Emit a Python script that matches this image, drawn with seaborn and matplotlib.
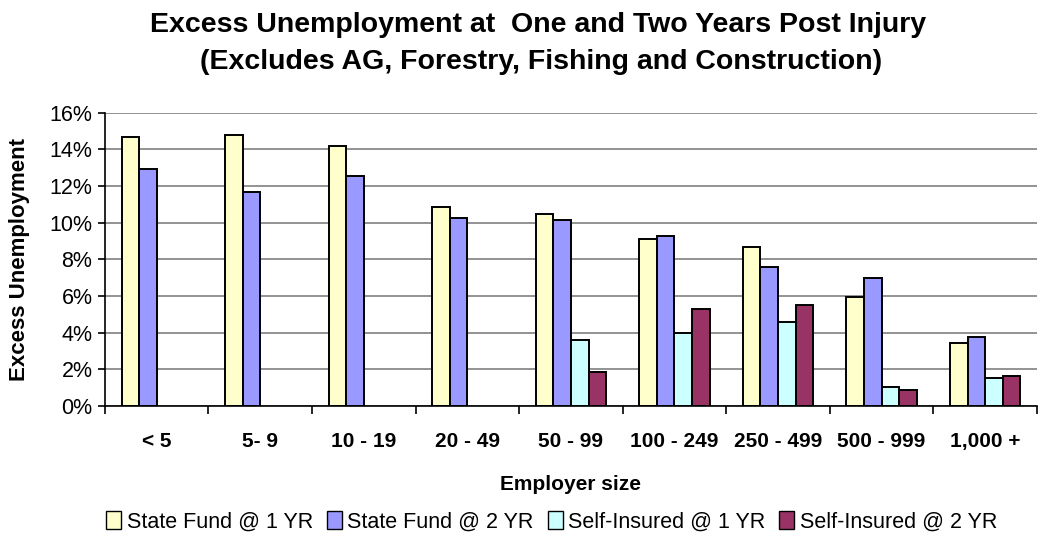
import numpy as np
import pandas as pd
import matplotlib
matplotlib.use("Agg")
import matplotlib.pyplot as plt
import seaborn as sns
from matplotlib.patches import Patch
from matplotlib.ticker import MultipleLocator, FuncFormatter

sizes = ["< 5", "5- 9", "10 - 19", "20 - 49", "50 - 99",
         "100 - 249", "250 - 499", "500 - 999", "1,000 +"]
series_names = ["State Fund @ 1 YR", "State Fund @ 2 YR",
                "Self-Insured @ 1 YR", "Self-Insured @ 2 YR"]
state_fund_1yr = [14.7, 14.8, 14.2, 10.85, 10.5, 9.1, 8.7, 5.95, 3.45]
state_fund_2yr = [12.95, 11.65, 12.55, 10.25, 10.15, 9.25, 7.6, 7.0, 3.75]
self_ins_1yr = [np.nan, np.nan, np.nan, np.nan, 3.6, 4.0, 4.6, 1.05, 1.55]
self_ins_2yr = [np.nan, np.nan, np.nan, np.nan, 1.85, 5.3, 5.5, 0.85, 1.65]
colors = ["#FFFFCC", "#9999FF", "#CCFFFF", "#993366"]

rows = []
for name, vals in zip(series_names,
                      [state_fund_1yr, state_fund_2yr, self_ins_1yr, self_ins_2yr]):
    for s, v in zip(sizes, vals):
        rows.append({"size": s, "series": name, "value": v})
df = pd.DataFrame(rows)

sns.set_theme(style="white")
plt.rcParams["font.family"] = ["Liberation Sans", "DejaVu Sans"]
plt.rcParams["text.color"] = "black"
plt.rcParams["axes.labelcolor"] = "black"
plt.rcParams["xtick.color"] = "black"
plt.rcParams["ytick.color"] = "black"

fig = plt.figure(figsize=(10.39, 5.37), dpi=100)
ax = fig.add_axes([0.101, 0.244, 0.897, 0.546])

sns.barplot(data=df, x="size", y="value", hue="series", order=sizes,
            hue_order=series_names, palette=colors, width=0.68,
            edgecolor="black", linewidth=1.4, ax=ax, legend=False,
            errorbar=None, saturation=1)

ax.set_ylim(0, 16)
ax.set_xlim(-0.5, len(sizes) - 0.5)
ax.yaxis.set_major_locator(MultipleLocator(2))
ax.yaxis.set_major_formatter(FuncFormatter(lambda v, p: f"{v:.0f}%"))
ax.grid(axis="y", color="#808080", linewidth=1.2)
ax.set_axisbelow(True)

for side in ["top", "right"]:
    ax.spines[side].set_visible(False)
for side in ["left", "bottom"]:
    ax.spines[side].set_color("black")
    ax.spines[side].set_linewidth(1.2)

# category boundaries carry the tick marks; labels sit at centres
ax.set_xticks(np.arange(-0.5, len(sizes), 1.0), minor=True)
ax.tick_params(axis="x", which="minor", length=6, width=1.2, color="black",
               direction="out", bottom=True)
ax.tick_params(axis="x", which="major", length=0, pad=19)
ax.tick_params(axis="y", which="major", length=5, width=1.2, color="black",
               direction="out", left=True, labelsize=15.5, pad=4)
for lab in ax.get_xticklabels():
    lab.set_fontweight("bold")
    lab.set_fontsize(15)

ax.set_xlabel("Employer size", fontsize=15, fontweight="bold", labelpad=17)
ax.set_ylabel("Excess Unemployment", fontsize=16, fontweight="bold", labelpad=14)

fig.text(0.518, 0.953, "Excess Unemployment at  One and Two Years Post Injury",
         ha="center", va="center", fontsize=20.5, fontweight="bold")
fig.text(0.521, 0.884, "(Excludes AG, Forestry, Fishing and Construction)",
         ha="center", va="center", fontsize=20.5, fontweight="bold")

handles = [Patch(facecolor=c, edgecolor="black", linewidth=1.0) for c in colors]
fig.legend(handles, series_names, loc="center", bbox_to_anchor=(0.531, 0.028),
           ncol=4, frameon=False, fontsize=15.5, handlelength=0.7,
           handleheight=0.85, handletextpad=0.25, columnspacing=0.65)

fig.savefig("out.png", dpi=100)
